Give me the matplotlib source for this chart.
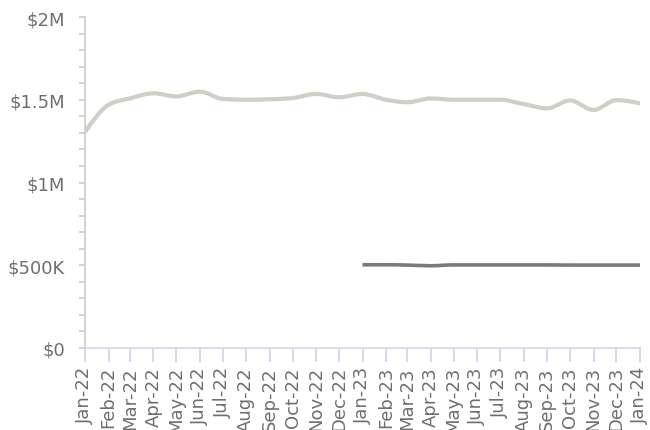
import numpy as np
import matplotlib
matplotlib.use("Agg")
import matplotlib.pyplot as plt
import matplotlib.dates as mdates
from matplotlib.path import Path
from matplotlib.patches import PathPatch
from matplotlib.ticker import FuncFormatter, MultipleLocator
import datetime as dt

# ---------------------------------------------------------------------------
# data
months = [dt.date(2022 + (i // 12), i % 12 + 1, 1) for i in range(25)]

total_vals = [1.305, 1.47, 1.508, 1.539, 1.52, 1.549, 1.505, 1.50, 1.503,
              1.51, 1.535, 1.515, 1.535, 1.50, 1.485, 1.508, 1.50, 1.50,
              1.50, 1.474, 1.448, 1.496, 1.438, 1.498, 1.478]  # $M

recent_months = months[12:]
recent_vals = [0.503, 0.503, 0.501, 0.497, 0.502, 0.502, 0.502, 0.502,
               0.502, 0.501, 0.501, 0.501, 0.501]  # $M

# ---------------------------------------------------------------------------
# smooth monotone curve (d3 style) drawn as bezier path
def monotone_path(x, y):
    x = np.asarray(x, float)
    y = np.asarray(y, float)
    n = len(x)
    h = np.diff(x)
    s = np.diff(y) / h
    t = np.zeros(n)
    for i in range(1, n - 1):
        p = (s[i - 1] * h[i] + s[i] * h[i - 1]) / (h[i - 1] + h[i])
        t[i] = (np.sign(s[i - 1]) + np.sign(s[i])) * \
            min(abs(s[i - 1]), abs(s[i]), 0.5 * abs(p))
    t[0] = (3 * s[0] - t[1]) / 2
    t[-1] = (3 * s[-1] - t[-2]) / 2
    verts = [(x[0], y[0])]
    codes = [Path.MOVETO]
    for i in range(n - 1):
        d = h[i] / 3
        verts += [(x[i] + d, y[i] + d * t[i]),
                  (x[i + 1] - d, y[i + 1] - d * t[i + 1]),
                  (x[i + 1], y[i + 1])]
        codes += [Path.CURVE4] * 3
    return Path(verts, codes)


# ---------------------------------------------------------------------------
# plot
fig = plt.figure(figsize=(6.5, 4.31), dpi=100)
ax = fig.add_axes([85 / 650, (431 - 349) / 431, 555 / 650, 331 / 431])

xa = mdates.date2num(months)
xb = mdates.date2num(recent_months)
ax.add_patch(PathPatch(monotone_path(xa, total_vals), fill=False,
                       edgecolor="#d1cdc7", lw=3, capstyle="butt"))
ax.add_patch(PathPatch(monotone_path(xb, recent_vals), fill=False,
                       edgecolor="#7a7a7a", lw=2.6, capstyle="butt"))

ax.set_xlim(xa[0], xa[-1])
ax.set_ylim(0, 2)

ax.yaxis.set_major_locator(MultipleLocator(0.5))
ax.yaxis.set_minor_locator(MultipleLocator(0.1))


def money(v, pos):
    if v == 0:
        return "$0"
    if v < 1:
        return "$%dK" % round(v * 1000)
    return "$%gM" % v


ax.yaxis.set_major_formatter(FuncFormatter(money))
ax.set_xticks(xa)
ax.set_xticklabels([m.strftime("%b-%y") for m in months], rotation=90)

for side in ["top", "right"]:
    ax.spines[side].set_visible(False)
ax.spines["left"].set_color("#cccccc")
ax.spines["bottom"].set_color("#cfd6e3")
ax.spines["left"].set_linewidth(1.2)
ax.spines["bottom"].set_linewidth(1.2)

ax.tick_params(axis="y", which="both", length=4.5, color="#cccccc", width=1.2,
               labelsize=13, labelcolor="#6e6e6e", pad=10)
ax.tick_params(axis="x", length=10, color="#c9d6ec", width=1.2,
               labelsize=13, labelcolor="#6e6e6e", pad=3)

fig.savefig("out.png", dpi=100)
